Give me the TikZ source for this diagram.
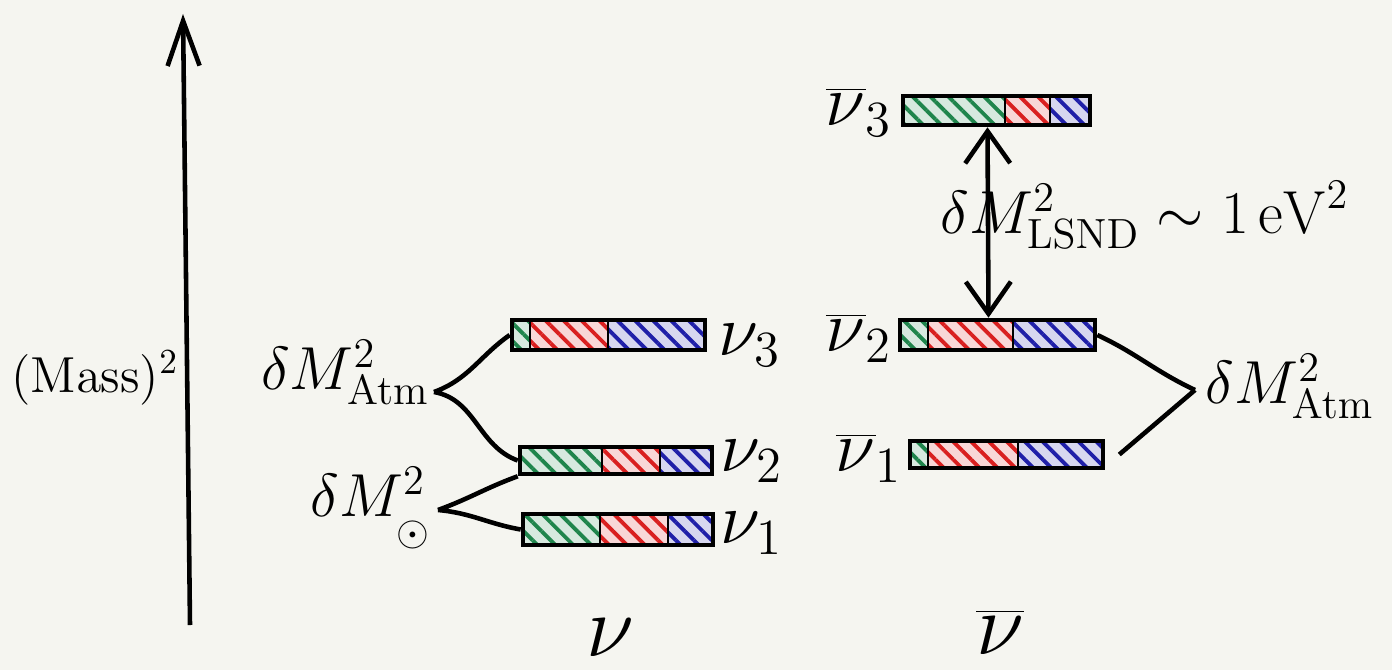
\documentclass[tikz,border=0pt]{standalone}
\usetikzlibrary{patterns.meta,arrows.meta,fit}
\definecolor{paper}{rgb}{0.96,0.96,0.94}
\definecolor{hgreen}{rgb}{0.12,0.52,0.30}
\definecolor{hred}{rgb}{0.85,0.12,0.12}
\definecolor{hblue}{rgb}{0.12,0.12,0.66}
\begin{document}
\begin{tikzpicture}[x=0.01cm,y=-0.01cm,
seg/.style={preaction={fill=#1!18}, pattern={Lines[angle=-45,distance=3.6pt,line width=1.1pt]}, pattern color=#1, draw=black, line width=0.8pt},
bar/.style={draw, line width=1.3pt, inner sep=0pt},
lbl/.style={font=\huge, inner sep=0pt},
dlbl/.style={font=\LARGE, inner sep=0pt},
link/.style={line width=1.3pt},
barb/.tip={Straight Barb[length=0.32cm,width=0.45cm]}]
\useasboundingbox (0,0) rectangle (1392,670);
\fill[paper] (0,0) rectangle (1392,670);

\coordinate (abot) at (190,625);
\coordinate (atop) at (183,14);
\draw[link, -{Straight Barb[length=0.45cm,width=0.32cm]}] (abot) -- (atop);
\node[font=\Large] (mass) at (95,378) {$(\mathrm{Mass})^2$};

\path[seg=hgreen] (512,320) rectangle (530,350);
\path[seg=hred] (530,320) rectangle (608,350);
\path[seg=hblue] (608,320) rectangle (705,350);
\node[bar, fit={(512,320) (705,350)}] (n3) {};
\path[seg=hgreen] (520,447) rectangle (602,474);
\path[seg=hred] (602,447) rectangle (660,474);
\path[seg=hblue] (660,447) rectangle (712,474);
\node[bar, fit={(520,447) (712,474)}] (n2) {};
\path[seg=hgreen] (523,514) rectangle (600,545);
\path[seg=hred] (600,514) rectangle (668,545);
\path[seg=hblue] (668,514) rectangle (713,545);
\node[bar, fit={(523,514) (713,545)}] (n1) {};

\node[lbl, anchor=west] (n3l) at (718,345) {$\nu_3$};
\node[lbl, anchor=west] (n2l) at (720,461) {$\nu_2$};
\node[lbl, anchor=west] (n1l) at (720,533) {$\nu_1$};

\node[dlbl, anchor=east] (latm) at (430,372) {$\delta M^2_{\mathrm{Atm}}$};
\node[dlbl, anchor=east] (lsol) at (432,508) {$\delta M^2_{\lower4pt\hbox{$\scriptstyle\odot$}}$};
\coordinate (jatm) at (434,392);
\coordinate (jsol) at (438,510);
\draw[link]
(jatm) to[out=20,in=215] (n3.west)
(jatm) to[out=-10,in=160] (n2.west)
(jsol) to[out=20,in=200] (n2.south west)
(jsol) to[out=-5,in=170] (n1.west);

\path[seg=hgreen] (903,96) rectangle (1005,125);
\path[seg=hred] (1005,96) rectangle (1050,125);
\path[seg=hblue] (1050,96) rectangle (1090,125);
\node[bar, fit={(903,96) (1090,125)}] (a3) {};
\path[seg=hgreen] (900,320) rectangle (928,350);
\path[seg=hred] (928,320) rectangle (1013,350);
\path[seg=hblue] (1013,320) rectangle (1095,350);
\node[bar, fit={(900,320) (1095,350)}] (a2) {};
\path[seg=hgreen] (910,441) rectangle (928,468);
\path[seg=hred] (928,441) rectangle (1018,468);
\path[seg=hblue] (1018,441) rectangle (1103,468);
\node[bar, fit={(910,441) (1103,468)}] (a1) {};

\node[lbl, anchor=east] (a3l) at (893,112) {$\overline{\nu}_3$};
\node[lbl, anchor=east] (a2l) at (893,338) {$\overline{\nu}_2$};
\node[lbl, anchor=east] (a1l) at (903,458) {$\overline{\nu}_1$};

\draw[link, barb-barb] ([xshift=-0.09cm]a3.south) -- ([xshift=-0.09cm]a2.north);
\node[dlbl, anchor=west] (lsnd) at (940,215) {$\delta M^2_{\mathrm{LSND}} \sim 1\,\mathrm{eV}^2$};

\coordinate (jbar) at (1195,390);
\node[dlbl, anchor=west] (ratm) at (1205,386) {$\delta M^2_{\mathrm{Atm}}$};
\draw[link]
(a2.east) to[out=-25,in=155] (jbar)
(jbar) -- ([xshift=0.14cm]a1.east);

\node[font=\Huge] (nu) at (610,638) {$\nu$};
\node[font=\Huge] (anu) at (1000,632) {$\overline{\nu}$};
\end{tikzpicture}
\end{document}
